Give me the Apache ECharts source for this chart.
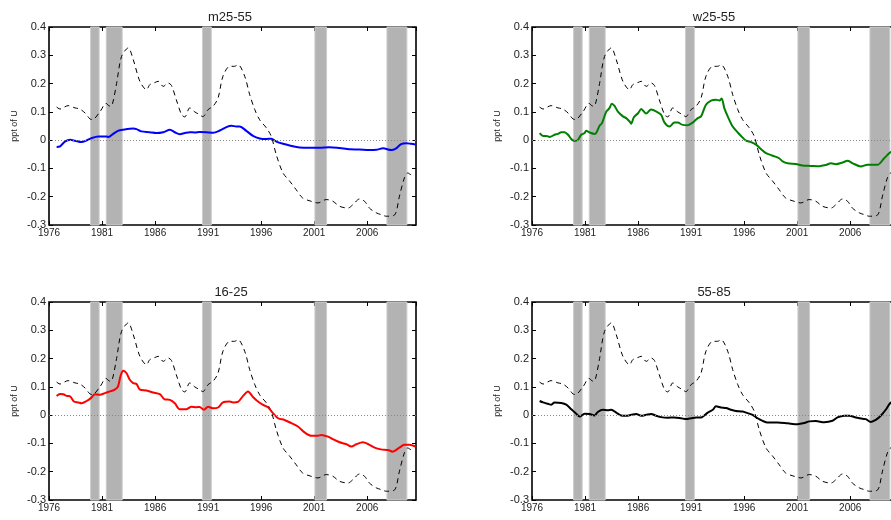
<!DOCTYPE html>
<html>
<head>
<meta charset="utf-8">
<script src="https://cdn.jsdelivr.net/npm/echarts@6/dist/echarts.min.js"></script>
<style>html,body{margin:0;padding:0;background:#fff;}#c{width:891px;height:520px;}</style>
</head>
<body>
<div id="c"></div>
<script>
// ---- data ----
const panelTitles = ['m25-55', 'w25-55', '16-25', '55-85'];
const xTicks = [1976, 1981, 1986, 1991, 1996, 2001, 2006];
const yTicks = [-0.3, -0.2, -0.1, 0, 0.1, 0.2, 0.3, 0.4];
const recessions = [[1979.92, 1980.73], [1981.4, 1982.9], [1990.47, 1991.3], [2001.07, 2002.17], [2007.86, 2009.74]];

// aggregate (dashed) line, same in every panel
const aggregate = [[1976.72,0.117],[1977.04,0.11],[1977.8,0.122],[1978.45,0.114],[1978.9,0.11],[1979.4,0.096],[1979.86,0.075],[1980.1,0.073],[1980.8,0.10],[1981.37,0.13],[1981.74,0.12],[1981.96,0.125],[1982.37,0.2],[1982.84,0.296],[1983.47,0.326],[1983.94,0.285],[1984.57,0.208],[1985.2,0.178],[1985.5,0.196],[1986.0,0.204],[1986.3,0.208],[1986.77,0.19],[1987.23,0.202],[1987.55,0.193],[1988.0,0.143],[1988.5,0.09],[1988.8,0.082],[1989.27,0.114],[1989.74,0.10],[1990.2,0.09],[1990.5,0.083],[1991.0,0.108],[1991.47,0.12],[1991.94,0.149],[1992.4,0.226],[1993.04,0.261],[1993.5,0.261],[1993.82,0.267],[1994.45,0.226],[1994.92,0.161],[1995.4,0.108],[1995.86,0.072],[1996.5,0.043],[1996.96,0.013],[1997.43,-0.052],[1998.06,-0.116],[1998.69,-0.145],[1999.3,-0.175],[1999.9,-0.204],[2000.7,-0.216],[2001.35,-0.222],[2002.14,-0.21],[2002.76,-0.216],[2003.4,-0.234],[2004.2,-0.24],[2004.65,-0.228],[2005.28,-0.208],[2005.75,-0.216],[2006.2,-0.24],[2006.85,-0.257],[2007.3,-0.263],[2007.8,-0.269],[2008.57,-0.265],[2009.04,-0.198],[2009.5,-0.134],[2009.83,-0.116],[2010.14,-0.122],[2010.45,-0.122]];

const men2555 = [[1976.72,-0.024],[1977.04,-0.022],[1977.5,-0.005],[1978.0,0.001],[1978.45,-0.002],[1979.07,-0.007],[1979.55,-0.001],[1980.0,0.007],[1980.65,0.013],[1981.43,0.013],[1981.6,0.011],[1982.05,0.022],[1982.5,0.033],[1983.0,0.037],[1983.94,0.041],[1984.25,0.039],[1984.7,0.031],[1985.5,0.028],[1986.1,0.025],[1986.77,0.028],[1987.4,0.037],[1987.86,0.028],[1988.33,0.021],[1988.8,0.025],[1989.27,0.028],[1989.74,0.027],[1990.2,0.029],[1990.84,0.028],[1991.47,0.026],[1992.1,0.034],[1992.72,0.046],[1993.2,0.051],[1993.66,0.048],[1993.98,0.048],[1994.6,0.033],[1995.23,0.015],[1995.86,0.006],[1996.5,0.004],[1996.96,0.005],[1997.43,-0.005],[1998.06,-0.013],[1998.69,-0.019],[1999.63,-0.026],[2000.57,-0.027],[2001.5,-0.027],[2002.45,-0.025],[2003.4,-0.028],[2004.33,-0.032],[2005.28,-0.033],[2006.2,-0.035],[2006.85,-0.034],[2007.5,-0.029],[2008.26,-0.035],[2008.73,-0.029],[2009.2,-0.014],[2009.67,-0.011],[2010.14,-0.013],[2010.55,-0.015]];

const women2555 = [[1976.72,0.025],[1977.04,0.015],[1977.35,0.015],[1977.66,0.011],[1978.13,0.019],[1978.45,0.022],[1978.76,0.028],[1979.07,0.028],[1979.4,0.019],[1979.7,0.004],[1980.02,-0.003],[1980.33,0.001],[1980.64,0.019],[1980.96,0.025],[1981.1,0.033],[1981.43,0.027],[1981.9,0.022],[1982.05,0.025],[1982.37,0.051],[1982.6,0.06],[1983.0,0.101],[1983.3,0.113],[1983.53,0.129],[1983.78,0.121],[1984.1,0.101],[1984.57,0.084],[1984.88,0.078],[1985.2,0.066],[1985.35,0.058],[1985.6,0.081],[1986.0,0.095],[1986.3,0.11],[1986.76,0.094],[1987.23,0.108],[1987.86,0.098],[1988.17,0.09],[1988.5,0.062],[1988.96,0.048],[1989.43,0.062],[1989.74,0.062],[1990.2,0.054],[1990.68,0.053],[1991.15,0.062],[1991.62,0.078],[1991.94,0.084],[1992.4,0.125],[1992.88,0.14],[1993.35,0.143],[1993.66,0.14],[1993.88,0.147],[1994.13,0.113],[1994.45,0.084],[1994.92,0.048],[1995.4,0.027],[1995.86,0.009],[1996.18,-0.002],[1996.65,-0.007],[1997.12,-0.016],[1997.6,-0.032],[1998.06,-0.046],[1998.69,-0.055],[1999.3,-0.064],[1999.63,-0.075],[2000.1,-0.082],[2000.88,-0.084],[2001.5,-0.09],[2002.3,-0.091],[2003.08,-0.092],[2003.7,-0.088],[2004.18,-0.082],[2004.65,-0.085],[2005.28,-0.079],[2005.75,-0.073],[2006.2,-0.081],[2007.0,-0.093],[2007.63,-0.087],[2008.57,-0.087],[2009.2,-0.064],[2009.76,-0.044],[2010.1,-0.036],[2010.5,-0.032]];

const youth1625 = [[1976.72,0.068],[1977.04,0.075],[1977.35,0.074],[1977.66,0.068],[1978.0,0.066],[1978.35,0.048],[1978.76,0.045],[1979.07,0.042],[1979.55,0.05],[1980.0,0.062],[1980.33,0.074],[1980.8,0.072],[1981.27,0.078],[1981.74,0.084],[1982.2,0.09],[1982.5,0.101],[1982.75,0.139],[1983.0,0.157],[1983.3,0.149],[1983.62,0.125],[1983.94,0.113],[1984.25,0.11],[1984.57,0.09],[1985.2,0.087],[1985.82,0.08],[1986.45,0.074],[1986.9,0.056],[1987.4,0.054],[1987.86,0.042],[1988.33,0.021],[1988.96,0.021],[1989.43,0.03],[1989.9,0.028],[1990.2,0.029],[1990.6,0.019],[1991.0,0.03],[1991.47,0.024],[1991.94,0.027],[1992.4,0.045],[1993.04,0.048],[1993.35,0.045],[1993.82,0.047],[1994.3,0.068],[1994.76,0.084],[1995.23,0.064],[1995.7,0.048],[1996.18,0.036],[1996.65,0.028],[1997.12,0.007],[1997.6,-0.011],[1998.2,-0.017],[1998.84,-0.028],[1999.47,-0.04],[2000.1,-0.061],[2000.73,-0.073],[2001.35,-0.073],[2001.67,-0.07],[2002.3,-0.076],[2002.76,-0.085],[2003.4,-0.096],[2004.0,-0.102],[2004.5,-0.111],[2004.96,-0.103],[2005.6,-0.096],[2006.06,-0.102],[2006.7,-0.115],[2007.3,-0.121],[2007.95,-0.123],[2008.4,-0.129],[2009.04,-0.115],[2009.5,-0.105],[2009.98,-0.105],[2010.55,-0.111]];

const older5585 = [[1976.72,0.05],[1977.04,0.045],[1977.5,0.04],[1977.82,0.037],[1978.13,0.045],[1978.76,0.043],[1979.23,0.037],[1979.7,0.021],[1980.17,0.005],[1980.49,-0.005],[1980.96,0.005],[1981.43,0.004],[1981.9,-0.001],[1982.2,0.011],[1982.68,0.019],[1983.15,0.017],[1983.47,0.019],[1983.94,0.009],[1984.4,-0.001],[1984.88,-0.002],[1985.35,0.001],[1985.82,0.004],[1986.3,-0.002],[1986.76,0.001],[1987.23,0.004],[1987.7,-0.002],[1988.17,-0.007],[1988.8,-0.009],[1989.43,-0.008],[1990.06,-0.011],[1990.53,-0.014],[1991.0,-0.011],[1991.47,-0.008],[1991.94,-0.008],[1992.57,0.009],[1993.04,0.019],[1993.35,0.031],[1993.82,0.027],[1994.3,0.025],[1994.76,0.019],[1995.23,0.015],[1995.86,0.013],[1996.33,0.007],[1996.8,0.001],[1997.27,-0.011],[1997.74,-0.02],[1998.2,-0.026],[1999.16,-0.026],[2000.1,-0.029],[2001.04,-0.032],[2001.67,-0.028],[2002.14,-0.022],[2002.76,-0.021],[2003.55,-0.025],[2004.33,-0.02],[2004.8,-0.008],[2005.43,-0.002],[2005.9,-0.002],[2006.53,-0.008],[2007.16,-0.013],[2007.47,-0.014],[2007.94,-0.024],[2008.41,-0.017],[2008.88,-0.002],[2009.35,0.019],[2009.76,0.042],[2010.1,0.05],[2010.5,0.055]];

const groupSeries = [men2555, women2555, youth1625, older5585];
const groupColors = ['#0000ff', '#008000', '#ff0000', '#000000'];

// ---- layout ----
const FONT = 'Liberation Sans, Arial, sans-serif';
const grids = [
  {left: 49, top: 27, width: 367, height: 198},
  {left: 532, top: 27, width: 367, height: 198},
  {left: 49, top: 302, width: 367, height: 198},
  {left: 532, top: 302, width: 367, height: 198}
];
const titlePos = [[225, 6], [709, 6], [226, 281], [709, 281]];
const X_MIN = xTicks[0], X_MAX = 2010.6, X_INT = xTicks[1] - xTicks[0];
const Y_MIN = yTicks[0], Y_MAX = yTicks[yTicks.length - 1], Y_INT = 0.1;

const xAxes = [], yAxes = [], series = [], titles = [];
grids.forEach((g, i) => {
  g.show = true; g.borderColor = '#000'; g.borderWidth = 1.6; g.backgroundColor = 'transparent';
  g.containLabel = false; g.outerBoundsMode = 'none';
  const xbase = {
    type: 'value', gridIndex: i, min: X_MIN, max: X_MAX, interval: X_INT,
    splitLine: {show: false}, axisLine: {show: false, onZero: false},
    axisTick: {show: true, inside: true, length: 4, lineStyle: {color: '#000', width: 1}}
  };
  xAxes.push(Object.assign({}, xbase, {
    position: 'bottom',
    axisLabel: {
      show: true, margin: 3, fontSize: 10, fontFamily: FONT, color: '#222', showMaxLabel: false,
      formatter: v => (xTicks.indexOf(Math.round(v)) >= 0 && Math.abs(v - Math.round(v)) < 1e-6) ? String(Math.round(v)) : ''
    }
  }));
  xAxes.push(Object.assign({}, xbase, {position: 'top', axisLabel: {show: false}}));
  const ybase = {
    type: 'value', gridIndex: i, min: Y_MIN, max: Y_MAX, interval: Y_INT,
    splitLine: {show: false}, axisLine: {show: false, onZero: false},
    axisTick: {show: true, inside: true, length: 4, lineStyle: {color: '#000', width: 1}}
  };
  yAxes.push(Object.assign({}, ybase, {
    position: 'left',
    name: 'ppt of U', nameLocation: 'middle', nameGap: 30, nameRotate: 90,
    nameTextStyle: {fontSize: 9, fontFamily: FONT, color: '#222'},
    axisLabel: {
      show: true, margin: 3, fontSize: 11, fontFamily: FONT, color: '#222',
      formatter: v => Math.abs(v) < 1e-9 ? '0' : (Math.round(v * 10) / 10).toFixed(1)
    }
  }));
  yAxes.push(Object.assign({}, ybase, {position: 'right', axisLabel: {show: false}}));

  const xi = i * 2, yi = i * 2;
  // recession bands + zero line
  series.push({
    type: 'line', xAxisIndex: xi, yAxisIndex: yi, data: [], z: 1, silent: true,
    markArea: {
      silent: true,
      itemStyle: {color: '#b3b3b3', borderColor: '#cdcdcd', borderWidth: 1},
      data: recessions.map(r => [{xAxis: r[0]}, {xAxis: r[1]}])
    },
    markLine: {
      silent: true, symbol: 'none', label: {show: false},
      lineStyle: {color: '#888', type: [1, 2], width: 1},
      data: [{yAxis: 0}]
    }
  });
  // aggregate dashed
  series.push({
    type: 'line', xAxisIndex: xi, yAxisIndex: yi, data: aggregate, z: 3,
    showSymbol: false, smooth: 0.3, silent: true,
    lineStyle: {color: '#000', width: 1, type: [5, 4]}
  });
  // group line
  series.push({
    type: 'line', xAxisIndex: xi, yAxisIndex: yi, data: groupSeries[i], z: 4,
    showSymbol: false, smooth: 0.3, silent: true,
    lineStyle: {color: groupColors[i], width: 2}
  });
  titles.push({
    text: panelTitles[i], left: titlePos[i][0], top: titlePos[i][1], textAlign: 'center',
    textStyle: {fontSize: 13, fontWeight: 'normal', fontFamily: FONT, color: '#222'}
  });
});

const chart = echarts.init(document.getElementById('c'), null, {renderer: 'canvas'});
chart.setOption({
  animation: false,
  backgroundColor: '#fff',
  title: titles,
  grid: grids,
  xAxis: xAxes,
  yAxis: yAxes,
  series: series
});
</script>
</body>
</html>
